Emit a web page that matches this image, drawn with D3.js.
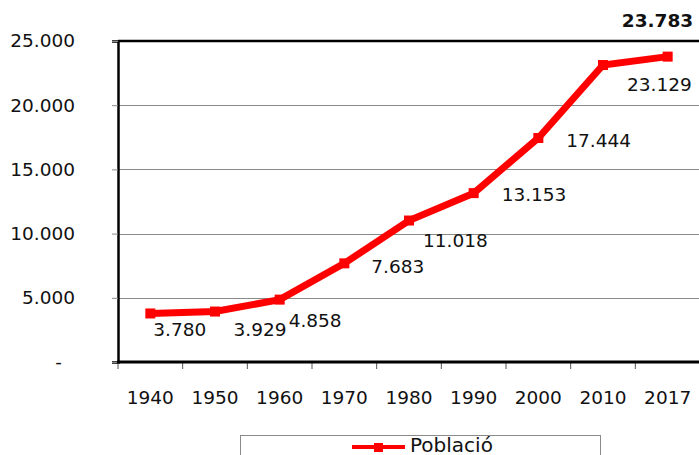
<!DOCTYPE html>
<html>
<head>
<meta charset="utf-8">
<script src="https://cdn.jsdelivr.net/npm/d3@7"></script>
<style>
  html, body { margin: 0; padding: 0; background: #fff; }
  svg { display: block; font-family: "DejaVu Sans", Verdana, sans-serif; }
</style>
</head>
<body>
<svg id="chart" width="699" height="455"></svg>
<script>
// ---- data ----
const categories = ["1940", "1950", "1960", "1970", "1980", "1990", "2000", "2010", "2017"];
const poblacio = [3780, 3929, 4858, 7683, 11018, 13153, 17444, 23129, 23783];
const yTicks = [0, 5000, 10000, 15000, 20000, 25000];
const seriesName = "Població";
// label placement relative to each point (layout only)
const labelOffsets = [[3, 22.5], [18.5, 24.5], [9, 27.5], [27, 10], [14, 26.5], [28, 8], [28, 9], [24, 26], [25.5, -29.6]];

const svg = d3.select("#chart");
const margin = { left: 118, top: 41 };
const W = 699;
const plotRight = 700;
const plotBottom = 362;
const FS = 18.5;

const fmt = v => v === 0 ? "-" : d3.format(",")(v).replace(/,/g, ".");

const x = d3.scaleBand().domain(categories).range([margin.left, plotRight]).paddingInner(0).paddingOuter(0);
const y = d3.scaleLinear().domain([0, 25000]).range([plotBottom, margin.top]);

// gridlines
svg.append("g").selectAll("line").data(yTicks.filter(d => d > 0 && d < 25000)).join("line")
  .attr("x1", margin.left).attr("x2", W)
  .attr("y1", d => Math.round(y(d)) + 0.5).attr("y2", d => Math.round(y(d)) + 0.5)
  .attr("stroke", "#8a8a8a").attr("stroke-width", 1);

// top border
svg.append("line").attr("x1", margin.left).attr("x2", W)
  .attr("y1", y(25000)).attr("y2", y(25000))
  .attr("stroke", "#000").attr("stroke-width", 2.5);

// y axis
const yAxis = d3.axisLeft(y).tickValues(yTicks).tickFormat(fmt).tickSize(6).tickPadding(37);
const gy = svg.append("g").attr("transform", `translate(${margin.left},0)`).call(yAxis);
gy.select(".domain").attr("stroke", "#000").attr("stroke-width", 2.5);
gy.selectAll(".tick line").attr("stroke", "#8a8a8a");
gy.selectAll(".tick text").attr("font-size", FS).attr("fill", "#111")
  .attr("font-family", "DejaVu Sans, Verdana, sans-serif")
  .attr("dx", d => d === 0 ? -13 : 0);

// x axis
const xAxis = d3.axisBottom(x).tickSize(0).tickPadding(29);
const gx = svg.append("g").attr("transform", `translate(0,${plotBottom})`).call(xAxis);
gx.select(".domain").remove();
gx.selectAll(".tick text").attr("font-size", FS).attr("fill", "#111")
  .attr("font-family", "DejaVu Sans, Verdana, sans-serif");
// boundary tick marks
const bounds = categories.map(c => x(c)).concat([plotRight]);
svg.append("g").selectAll("line").data(bounds).join("line")
  .attr("x1", d => d).attr("x2", d => d)
  .attr("y1", plotBottom).attr("y2", plotBottom + 7)
  .attr("stroke", "#555").attr("stroke-width", 1);
svg.append("line").attr("x1", margin.left - 1).attr("x2", W)
  .attr("y1", plotBottom).attr("y2", plotBottom)
  .attr("stroke", "#000").attr("stroke-width", 3);

// series line
const cx = c => x(c) + x.bandwidth() / 2;
const pts = categories.map((c, i) => ({ c, v: poblacio[i], i }));
svg.append("path").datum(pts)
  .attr("d", d3.line().x(d => cx(d.c)).y(d => y(d.v)))
  .attr("fill", "none").attr("stroke", "#ff0000").attr("stroke-width", 7)
  .attr("stroke-linejoin", "miter");
svg.append("g").selectAll("rect").data(pts).join("rect")
  .attr("x", d => cx(d.c) - 5).attr("y", d => y(d.v) - 5)
  .attr("width", 10).attr("height", 10).attr("fill", "#ff0000");

// data labels
const last = pts.length - 1;
svg.append("g").selectAll("text").data(pts).join("text")
  .attr("x", d => cx(d.c) + labelOffsets[d.i][0])
  .attr("y", d => y(d.v) + labelOffsets[d.i][1])
  .attr("text-anchor", d => d.i === last ? "end" : "start")
  .attr("font-size", FS)
  .attr("font-weight", d => d.i === last ? "bold" : "normal")
  .attr("fill", "#111")
  .text(d => fmt(d.v));

// legend
svg.append("rect").attr("x", 240.5).attr("y", 435.5).attr("width", 360).attr("height", 40)
  .attr("fill", "none").attr("stroke", "#8a8a8a").attr("stroke-width", 1);
svg.append("line").attr("x1", 352).attr("x2", 405).attr("y1", 447).attr("y2", 447)
  .attr("stroke", "#ff0000").attr("stroke-width", 4);
svg.append("rect").attr("x", 374).attr("y", 443).attr("width", 9).attr("height", 9).attr("fill", "#ff0000");
svg.append("text").attr("x", 410).attr("y", 452).attr("font-size", 20).attr("fill", "#111").text(seriesName);
</script>
</body>
</html>
